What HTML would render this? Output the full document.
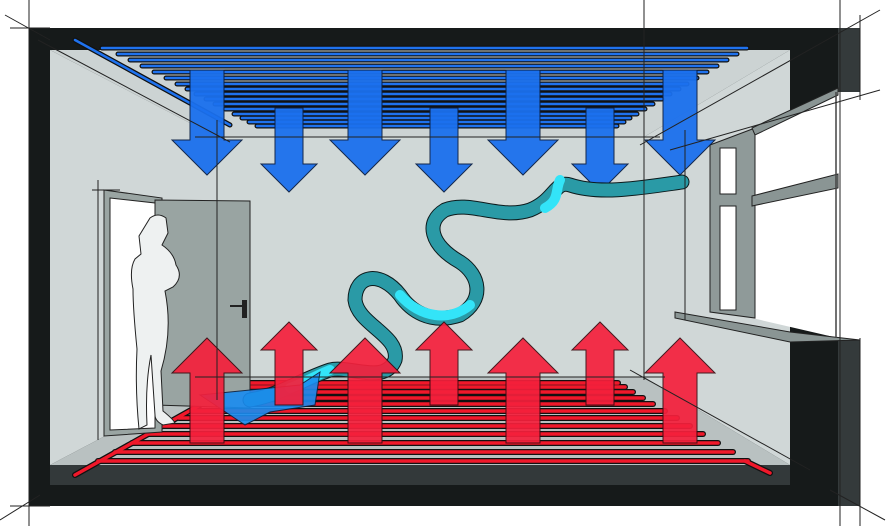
<!DOCTYPE html>
<html><head><meta charset="utf-8"><style>html,body{margin:0;padding:0;background:#fff}svg{display:block}</style></head>
<body>
<svg width="888" height="526" viewBox="0 0 888 526" xmlns="http://www.w3.org/2000/svg">
<defs>
<polygon id="bL" points="-17,70 17,70 17,140 35,140 0,175 -35,140 -17,140"/>
<polygon id="bS" points="-14,108 14,108 14,164 28,164 0,192 -28,164 -14,164"/>
<polygon id="rL" points="-17,443 17,443 17,373 35,373 0,338 -35,373 -17,373"/>
<polygon id="rS" points="-14,405 14,405 14,350 28,350 0,322 -28,350 -14,350"/>
</defs>
<rect x="29" y="28" width="811" height="478" fill="#161a1a"/>
<rect x="838" y="28" width="22" height="478" fill="#343a3b"/>
<polygon points="50,50 790,50 644,137 217,137" fill="#ccd3d3"/>
<polygon points="50,50 217,137 217,377 50,465" fill="#d0d7d7"/>
<polygon points="790,50 790,465 644,377 644,137" fill="#d0d7d7"/>
<rect x="217" y="137" width="427" height="240" fill="#d0d8d7"/>
<polygon points="217,377 644,377 790,465 50,465" fill="#b9c1c1"/>
<rect x="50" y="465" width="740" height="20" fill="#33393a"/>
<rect x="790" y="28" width="48" height="64" fill="#161a1a"/>
<rect x="790" y="338" width="48" height="168" fill="#161a1a"/>
<polygon points="752,128 838,92 862,92 862,340 838,338 752,318" fill="#fff"/>
<polygon points="710,145 755,128 755,318 710,312" fill="#8f9a99" stroke="#222" stroke-width="1"/>
<rect x="720" y="148" width="16" height="46" fill="#fff" stroke="#222" stroke-width="1"/>
<rect x="720" y="206" width="16" height="104" fill="#fff" stroke="#222" stroke-width="1"/>
<polygon points="752,196 838,174 838,188 752,206" fill="#8a9594" stroke="#222" stroke-width="1"/>
<polygon points="675,312 790,332 860,340 790,342 675,318" fill="#8a9594" stroke="#222" stroke-width="1"/>
<polygon points="752,128 838,88 838,95 755,135" fill="#8a9594" stroke="#222" stroke-width="1"/>
<line x1="836" y1="92" x2="836" y2="338" stroke="#444" stroke-width="1.5"/>
<g stroke-linecap="round">
<g stroke="#111" stroke-width="5">
<line x1="102" y1="48" x2="747" y2="48"/><line x1="118" y1="54" x2="737" y2="54"/><line x1="130" y1="60" x2="727" y2="60"/><line x1="142" y1="66" x2="717" y2="66"/><line x1="154" y1="72" x2="707" y2="72"/><line x1="166" y1="78" x2="697" y2="78"/><line x1="177" y1="84" x2="687" y2="84"/><line x1="187" y1="89" x2="679" y2="89"/><line x1="196" y1="94" x2="670" y2="94"/><line x1="206" y1="99" x2="662" y2="99"/><line x1="215" y1="104" x2="653" y2="104"/><line x1="225" y1="109" x2="645" y2="109"/><line x1="234" y1="114" x2="637" y2="114"/><line x1="242" y1="118" x2="630" y2="118"/><line x1="249" y1="122" x2="624" y2="122"/><line x1="257" y1="126" x2="617" y2="126"/>
<line x1="75" y1="40" x2="230" y2="125"/>
</g>
<g stroke="#1f72ee" stroke-width="2.5">
<line x1="102" y1="48" x2="747" y2="48"/><line x1="118" y1="54" x2="737" y2="54"/><line x1="130" y1="60" x2="727" y2="60"/><line x1="142" y1="66" x2="717" y2="66"/><line x1="154" y1="72" x2="707" y2="72"/><line x1="166" y1="78" x2="697" y2="78"/><line x1="177" y1="84" x2="687" y2="84"/><line x1="187" y1="89" x2="679" y2="89"/><line x1="196" y1="94" x2="670" y2="94"/><line x1="206" y1="99" x2="662" y2="99"/><line x1="215" y1="104" x2="653" y2="104"/><line x1="225" y1="109" x2="645" y2="109"/><line x1="234" y1="114" x2="637" y2="114"/><line x1="242" y1="118" x2="630" y2="118"/><line x1="249" y1="122" x2="624" y2="122"/><line x1="257" y1="126" x2="617" y2="126"/>
<line x1="75" y1="40" x2="230" y2="125"/>
</g>
</g>
<g stroke-linecap="round">
<g stroke="#111" stroke-width="6">
<line x1="98" y1="461" x2="748" y2="461"/><line x1="115" y1="452" x2="733" y2="452"/><line x1="132" y1="443" x2="718" y2="443"/><line x1="149" y1="434" x2="703" y2="434"/><line x1="164" y1="426" x2="690" y2="426"/><line x1="179" y1="418" x2="677" y2="418"/><line x1="192" y1="411" x2="665" y2="411"/><line x1="206" y1="404" x2="653" y2="404"/><line x1="217" y1="398" x2="643" y2="398"/><line x1="228" y1="392" x2="633" y2="392"/><line x1="238" y1="387" x2="625" y2="387"/><line x1="245" y1="383" x2="618" y2="383"/>
<line x1="75" y1="475" x2="200" y2="405"/><line x1="770" y1="473" x2="745" y2="461"/>
</g>
<g stroke="#f0182a" stroke-width="3.5">
<line x1="98" y1="461" x2="748" y2="461"/><line x1="115" y1="452" x2="733" y2="452"/><line x1="132" y1="443" x2="718" y2="443"/><line x1="149" y1="434" x2="703" y2="434"/><line x1="164" y1="426" x2="690" y2="426"/><line x1="179" y1="418" x2="677" y2="418"/><line x1="192" y1="411" x2="665" y2="411"/><line x1="206" y1="404" x2="653" y2="404"/><line x1="217" y1="398" x2="643" y2="398"/><line x1="228" y1="392" x2="633" y2="392"/><line x1="238" y1="387" x2="625" y2="387"/><line x1="245" y1="383" x2="618" y2="383"/>
<line x1="75" y1="475" x2="200" y2="405"/><line x1="770" y1="473" x2="745" y2="461"/>
</g>
</g>
<polygon points="104,190 162,198 162,432 104,436" fill="#9aa5a3" stroke="#222"/>
<polygon points="110,198 155,203 155,428 110,430" fill="#fff" stroke="#222"/>
<polygon points="155,200 250,201 250,408 155,405" fill="#99a4a2" stroke="#222"/>
<rect x="242" y="300" width="5" height="18" fill="#222"/>
<line x1="230" y1="306" x2="244" y2="306" stroke="#222" stroke-width="2"/>
<path d="M150,218 q8,-6 16,0 l2,15 -6,12 q12,8 14,20 q8,12 -3,22 l-8,4 q8,40 -4,80 l2,40 q10,8 12,12 l-12,2 q-8,-4 -8,-10 l-4,-60 q-6,30 -4,70 l-8,4 q-4,-40 -2,-80 q-4,-40 -4,-60 q-4,-20 2,-30 l6,-5 -2,-18z" fill="#eef1f1" stroke="#222" stroke-width="1"/>
<g fill="#1b70ee" stroke="#0a1f44" stroke-width="1" opacity="0.95">
<use href="#bL" x="207"/><use href="#bS" x="289"/><use href="#bL" x="365"/><use href="#bS" x="444"/><use href="#bL" x="523"/><use href="#bS" x="600"/><use href="#bL" x="680"/>
</g>
<g fill="none" stroke-linecap="round" stroke-linejoin="round">
<path d="M682,182 C640,188 600,195 570,185 C555,180 555,200 530,210 C500,220 470,200 445,210 C425,222 430,245 460,262 C480,275 485,300 460,315 C430,325 410,310 400,295 C380,270 355,275 355,300 C358,325 400,335 395,360 C385,385 350,365 330,370 C300,380 280,395 250,400" stroke="#0c1a1c" stroke-width="15"/>
<path d="M682,182 C640,188 600,195 570,185 C555,180 555,200 530,210 C500,220 470,200 445,210 C425,222 430,245 460,262 C480,275 485,300 460,315 C430,325 410,310 400,295 C380,270 355,275 355,300 C358,325 400,335 395,360 C385,385 350,365 330,370 C300,380 280,395 250,400" stroke="#2a9aa6" stroke-width="13"/>
<path d="M560,180 C555,190 560,200 545,208 M400,295 C420,318 450,322 470,305 M330,370 C310,378 300,385 290,388" stroke="#33e4f8" stroke-width="10"/>
</g>
<polygon points="320,372 300,385 200,395 215,405 245,425 270,412 315,405" fill="#1a8cf0" opacity="0.9" stroke="#0a2040"/>
<g fill="#f5203c" stroke="#3a0a10" stroke-width="1" opacity="0.92">
<use href="#rL" x="207"/><use href="#rS" x="289"/><use href="#rL" x="365"/><use href="#rS" x="444"/><use href="#rL" x="523"/><use href="#rS" x="600"/><use href="#rL" x="680"/>
</g>
<g stroke="#222" stroke-width="1" fill="none">
<line x1="195" y1="137" x2="660" y2="137"/>
<line x1="195" y1="377" x2="665" y2="377"/>
<line x1="217" y1="120" x2="217" y2="400"/>
<line x1="644" y1="0" x2="644" y2="380"/>
<line x1="685" y1="130" x2="685" y2="320"/>
<line x1="38" y1="40" x2="230" y2="142"/>
<line x1="5" y1="15" x2="50" y2="40"/>
<line x1="29" y1="0" x2="29" y2="526"/>
<line x1="10" y1="28" x2="50" y2="28"/>
<line x1="0" y1="520" x2="40" y2="495"/>
<line x1="10" y1="506" x2="50" y2="506"/>
<line x1="630" y1="370" x2="810" y2="470"/>
<line x1="840" y1="0" x2="840" y2="526"/>
<line x1="860" y1="15" x2="860" y2="100"/>
<line x1="860" y1="338" x2="860" y2="526"/>
<line x1="640" y1="145" x2="880" y2="10"/>
<line x1="670" y1="150" x2="880" y2="90"/>
<line x1="830" y1="490" x2="885" y2="520"/>
<line x1="98" y1="180" x2="98" y2="440"/>
<line x1="92" y1="190" x2="120" y2="190"/>
</g>
</svg>
</body></html>
